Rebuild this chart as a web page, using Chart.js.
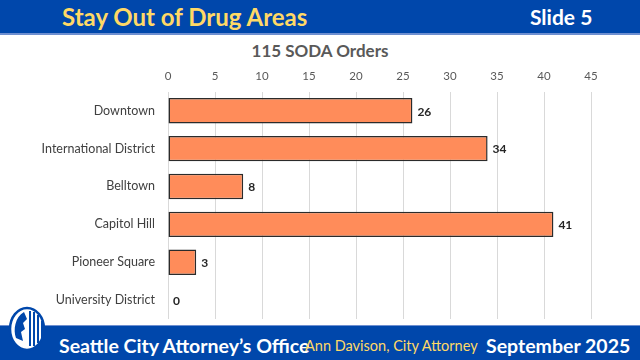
<!DOCTYPE html>
<html>
<head>
<meta charset="utf-8">
<script src="https://cdn.jsdelivr.net/npm/chart.js@4.4.1/dist/chart.umd.min.js"></script>
<style>
  body { margin: 0; width: 640px; height: 360px; overflow: hidden; background: #fff; font-family: Lato, "Open Sans", sans-serif; position: relative; }
  #header { position: absolute; left: 0; top: 0; width: 640px; height: 33px; background: #0047AB; border-bottom: 2px solid #6E8FD0; }
  #header .title { position: absolute; left: 62px; top: 2px; color: #FFD966; font-weight: bold; font-size: 24px; }
  #header .slide { position: absolute; left: 530px; top: 4px; color: #fff; font-weight: bold; font-size: 21px; }
  #footer { position: absolute; left: 0; top: 325px; width: 640px; height: 34px; background: #0047AB; border-top: 1px solid #6E8FD0; }
  #footer .office { position: absolute; left: 59px; top: 8px; color: #fff; font-weight: bold; font-size: 19.5px; }
  #footer .ann { position: absolute; left: 305px; top: 11px; color: #FFD966; font-size: 14.5px; }
  #footer .date { position: absolute; left: 486px; top: 8px; color: #fff; font-weight: bold; font-size: 19.5px; }
  #logo { position: absolute; left: 8px; top: 306px; }
  #titulo { position: absolute; left: 0; top: 40px; width: 640px; text-align: center; color: #595959; font-weight: bold; font-size: 17px; }
  #myChart { position: absolute; left: 0; top: 35px; }
</style>
</head>
<body>
<div id="header"><span class="title">Stay Out of Drug Areas</span><span class="slide">Slide 5</span></div>
<div id="titulo">115 SODA Orders</div>
<canvas id="myChart" width="640" height="304"></canvas>
<div id="footer"><span class="office">Seattle City Attorney’s Office</span><span class="ann">Ann Davison, City Attorney</span><span class="date">September 2025</span></div>
<svg id="logo" width="40" height="46" viewBox="0 0 40 46">
  <ellipse cx="19" cy="23" rx="17" ry="21" fill="#fff" stroke="#0047AB" stroke-width="2.5"/>
  <path d="M8 32 C5 24 7 11 16 6 L19 13 L15 17 L17 23 L13 26 L15 35 Z" fill="#0047AB"/>
  <path d="M22 5 L22 40 M26 6 L26 40 M30 9 L30 37 M34 15 L34 32" stroke="#0047AB" stroke-width="2"/>
</svg>
<script>
const categorias = ["Downtown", "International District", "Belltown", "Capitol Hill", "Pioneer Square", "University District"];
const ordenes = [26, 34, 8, 41, 3, 0];
const ticksX = [0, 5, 10, 15, 20, 25, 30, 35, 40, 45];

// etiquetas de valor al final de cada barra
const etiquetasPlugin = {
    id: "etiquetas",
    afterDatasetsDraw(chart) {
        const ctx = chart.ctx;
        const meta = chart.getDatasetMeta(0);
        ctx.save();
        ctx.font = "bold 12px Lato, sans-serif";
        ctx.fillStyle = "#262626";
        ctx.textBaseline = "middle";
        meta.data.forEach((bar, i) => {
            ctx.fillText(ordenes[i], bar.x + 5, bar.y + 1);
        });
        ctx.restore();
    }
};

function renderGrafica() {
    const myChart = document.getElementById("myChart");
    const config = {
        type: "bar",
        data: {
            labels: categorias,
            datasets: [{
                data: ordenes,
                backgroundColor: "#FF8C5A",
                borderColor: "#2B2B2B",
                borderWidth: 1.5,
                borderSkipped: false,
                categoryPercentage: 0.67,
                barPercentage: 1
            }]
        },
        options: {
            indexAxis: "y",
            responsive: false,
            animation: false,
            layout: { padding: { left: 0, right: 49, top: 25, bottom: 20 } },
            plugins: {
                legend: { display: false },
                tooltip: { enabled: false },
                title: { display: false }
            },
            scales: {
                x: {
                    position: "top",
                    min: 0,
                    max: 45,
                    afterBuildTicks: (axis) => { axis.ticks = ticksX.map(v => ({ value: v })); },
                    grid: { color: "#D9D9D9", drawTicks: false },
                    border: { display: false },
                    ticks: { color: "#595959", font: { family: "Lato", size: 11.5 }, padding: 9 }
                },
                y: {
                    afterFit: (axis) => { axis.width = 168; },
                    grid: { display: false },
                    border: { display: false },
                    ticks: { color: "#404040", font: { family: "Lato", size: 12.5 }, padding: 5 }
                }
            }
        },
        plugins: [etiquetasPlugin]
    };
    new Chart(myChart, config);
}

renderGrafica();
</script>
</body>
</html>
